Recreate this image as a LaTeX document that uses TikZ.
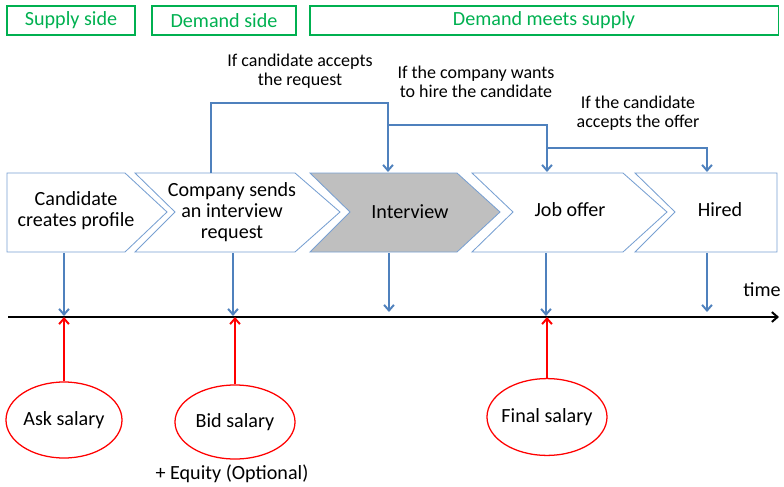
\documentclass[tikz,border=0pt]{standalone}
\usepackage{fontspec}
\setmainfont{Carlito}
\usetikzlibrary{positioning,shapes.geometric,arrows.meta}
\definecolor{grn}{RGB}{0,176,80}
\definecolor{flowblue}{RGB}{79,129,189}
\definecolor{chevline}{RGB}{120,160,210}
\definecolor{chevgray}{RGB}{191,191,191}

\begin{document}
\begin{tikzpicture}[x=0.025cm,y=-0.025cm,
    sidebox/.style={draw=grn,line width=0.8pt,text=grn,inner sep=0pt,minimum height=0.725cm,font=\fontsize{14.3}{15}\selectfont},
    chev/.style={draw=chevline,line width=0.6pt,fill=white},
    lbl/.style={align=center,font=\fontsize{14.3}{15}\selectfont},
    cond/.style={align=center,font=\fontsize{12.8}{13.8}\selectfont},
    flow/.style={draw=flowblue,line width=1.4pt,-{Straight Barb[length=4pt,width=7pt]}},
    salary/.style={ellipse,draw=red,line width=0.9pt,fill=white,inner xsep=-2.5pt,inner ysep=0pt,font=\fontsize{14.3}{15}\selectfont},
    bid/.style={draw=red,line width=1.4pt,-{Straight Barb[length=4pt,width=7pt]}}]
    \useasboundingbox (0,0) rectangle (784,487);

    \node[sidebox,minimum width=3.2cm] (sup) at (71,20.5) {Supply side};
    \node[sidebox,minimum width=3.6cm] (dem) at (224,20.5) {Demand side};
    \node[sidebox,minimum width=11.7cm] (meet) at (544,20.5) {Demand meets supply};

    \draw[chev] (7,173) -- (125,173) -- (167,212) -- (125,252) -- (7,252) -- cycle;
    \draw[chev] (135,173) -- (295,173) -- (340,212) -- (295,252) -- (135,252) -- (175,212) -- cycle;
    \draw[chev,fill=chevgray] (310,173) -- (457,173) -- (500,212) -- (457,252) -- (310,252) -- (350,212) -- cycle;
    \draw[chev] (472,173) -- (623,173) -- (667,212) -- (623,252) -- (472,252) -- (513,212) -- cycle;
    \draw[chev] (635,173) -- (777,173) -- (777,252) -- (635,252) -- (675,212) -- cycle;

    \node[lbl] (c1) at (76,211) {Candidate\\creates profile};
    \node[lbl] (c2) at (232,212) {Company sends\\an interview\\request};
    \node[lbl] (c3) at (410,212) {Interview};
    \node[lbl] (c4) at (570,210) {Job offer};
    \node[lbl] (c5) at (720,210) {Hired};

    \coordinate (c2top) at (211,173);
    \coordinate (c3top) at (388,172);
    \coordinate (c4top) at (547,172);
    \coordinate (c5top) at (707,172);
    \coordinate (j1) at (388,125);
    \coordinate (j2) at (547,148);
    \draw[flow] (c2top) -- ++(0,-70) -| (c3top);
    \draw[flow] (j1) -| (c4top);
    \draw[flow] (j2) -| (c5top);

    \node[cond] (l1) at (300,71) {If candidate accepts\\the request};
    \node[cond] (l2) at (476,82) {If the company wants\\to hire the candidate};
    \node[cond] (l3) at (638,113) {If the candidate\\accepts the offer};

    \coordinate (t0) at (8,317);
    \coordinate (t1) at (779,317);
    \draw[line width=1.4pt,-{Straight Barb[length=4pt,width=7pt]}] (t0) -- (t1);
    \node[lbl] (time) at (762,290) {time};

    \coordinate (b1) at (64,253);
    \coordinate (b2) at (233,253);
    \coordinate (b3) at (389,253);
    \coordinate (b4) at (546,253);
    \coordinate (b5) at (707,253);
    \draw[flow] (b1) -- (64,316);
    \draw[flow] (b2) -- (233,316);
    \draw[flow] (b3) -- (389,312);
    \draw[flow] (b4) -- (546,316);
    \draw[flow] (b5) -- (707,312);

    \node[salary,minimum width=2.9cm,minimum height=1.9cm] (ask) at (64,420) {Ask salary};
    \node[salary,minimum width=3.0cm,minimum height=1.85cm] (bidsal) at (235,422) {Bid salary};
    \node[salary,minimum width=3.0cm,minimum height=1.92cm] (fin) at (547,417) {Final salary};
    \draw[bid] (ask.north) -- (ask.north |- t0);
    \draw[bid] (bidsal.north) -- (bidsal.north |- t0);
    \draw[bid] (fin.north) -- (fin.north |- t0);

    \node[lbl] (eq) at (232,474) {+ Equity (Optional)};
\end{tikzpicture}
\end{document}
